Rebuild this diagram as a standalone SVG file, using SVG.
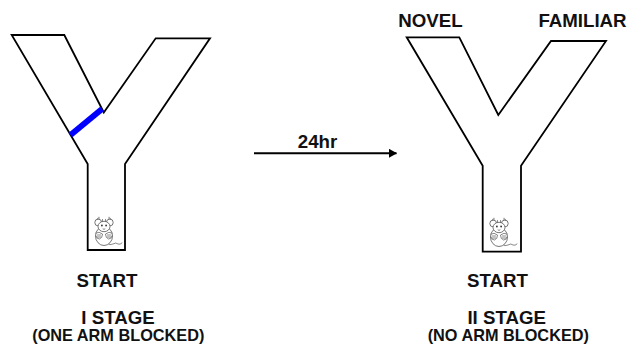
<svg xmlns="http://www.w3.org/2000/svg" width="632" height="348" viewBox="0 0 632 348">
  <style>
    .maze { fill: #ffffff; stroke: #000000; stroke-width: 1.8; stroke-linejoin: miter; }
    .lbl { font-family: "Liberation Sans", Arial, sans-serif; font-weight: bold; fill: #111111; text-anchor: middle; }
    .big { font-size: 18.7px; }
    .small { font-size: 16.3px; }
    .m { fill: #ffffff; stroke: #555555; stroke-width: 0.8; }
    .ml { fill: none; stroke: #555555; stroke-width: 0.7; stroke-linecap: round; }
  </style>
  <defs>
    <marker id="arrowhead" markerWidth="8" markerHeight="9" refX="7.5" refY="4.5" orient="auto" markerUnits="userSpaceOnUse">
      <path d="M0,0 L8,4.5 L0,9 Z" fill="#000000"/>
    </marker>
    <!-- small mouse seen from above, origin at top centre of the ears -->
    <g id="mouse">
      <path class="ml" d="M3,24 q3,3 6,1 q3,-2 5,0 q2,1 4,-1"/>
      <ellipse class="m" cx="0" cy="17" rx="8.5" ry="9.5"/>
      <circle class="m" cx="-5.8" cy="3.5" r="3.4"/>
      <circle class="m" cx="5.8" cy="3.5" r="3.4"/>
      <ellipse class="m" cx="0" cy="7.5" rx="6" ry="5.2"/>
      <circle cx="-2.1" cy="6.5" r="0.9" fill="#333333"/>
      <circle cx="2.1" cy="6.5" r="0.9" fill="#333333"/>
      <path class="ml" d="M-1,10 q1,1 2,0"/>
      <path class="ml" d="M-7,0.5 l1,-1.5 M-5,0 l0,-1.8 M5,0 l0,-1.8 M7,0.5 l-1,-1.5 M-1.5,2 l0,-1.5 M1.5,2 l0,-1.5"/>
      <path class="ml" d="M-8,14 q3,-2 6.5,1 q0,4 -3,5 q-3,0 -3.5,-3"/>
      <path class="ml" d="M8,14 q-3,-2 -6.5,1 q0,4 3,5 q3,0 3.5,-3"/>
      <path class="ml" d="M-6.5,16 l3,0 M-6.5,18 l3,0 M3.5,16 l3,0 M3.5,18 l3,0"/>
    </g>
  </defs>

  <!-- first stage: Y maze with one arm closed -->
  <g id="maze-stage1">
    <polygon class="maze" points="11.7,35 64.3,35 103.8,112.4 155.7,38.3 210,38.3 125,164 125,250 87.7,250 87.7,164"/>
    <line x1="102" y1="109" x2="70.5" y2="135" stroke="#0000ff" stroke-width="6"/>
    <use href="#mouse" x="104" y="219"/>
  </g>

  <!-- second stage: Y maze with both arms open -->
  <g id="maze-stage2">
    <polygon class="maze" points="406.7,37.3 459.3,37.3 498.3,115 551,41 606,41 521,165.7 521,251.7 482.7,251.7 482.7,165.7"/>
    <use href="#mouse" x="499" y="220"/>
  </g>

  <!-- delay between stages -->
  <g id="connectors">
    <line x1="254" y1="153.3" x2="396.5" y2="153.3" stroke="#000000" stroke-width="2" marker-end="url(#arrowhead)"/>
  </g>

  <g id="labels">
    <text class="lbl big" x="317.5" y="148">24hr</text>
    <text class="lbl big" x="430.5" y="27">NOVEL</text>
    <text class="lbl big" x="582.5" y="27">FAMILIAR</text>
    <text class="lbl big" x="107" y="287.3">START</text>
    <text class="lbl big" x="118" y="323.5">I STAGE</text>
    <text class="lbl small" x="118.3" y="340.5">(ONE ARM BLOCKED)</text>
    <text class="lbl big" x="497.5" y="287.3">START</text>
    <text class="lbl big" x="506.7" y="323.5">II STAGE</text>
    <text class="lbl small" x="508.3" y="340.5">(NO ARM BLOCKED)</text>
  </g>
</svg>
